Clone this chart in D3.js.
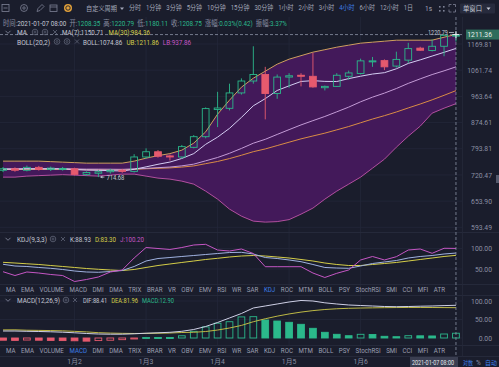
<!DOCTYPE html>
<html>
<head>
<meta charset="utf-8">
<script src="https://cdn.jsdelivr.net/npm/d3@7"></script>
<style>
html, body { margin: 0; padding: 0; background: #1a1d2c; }
svg { display: block; }
text { font-family: Roboto, "Noto Sans CJK SC", sans-serif; }
</style>
</head>
<body>
<svg id="chart" width="499" height="367"></svg>
<script>
'use strict';

// 4h candles, 2021-01-01 00:00 .. 2021-01-07 08:00
var times = [
    '2021-01-01 00:00', '2021-01-01 04:00', '2021-01-01 08:00', '2021-01-01 12:00', '2021-01-01 16:00', '2021-01-01 20:00',
    '2021-01-02 00:00', '2021-01-02 04:00', '2021-01-02 08:00', '2021-01-02 12:00', '2021-01-02 16:00', '2021-01-02 20:00',
    '2021-01-03 00:00', '2021-01-03 04:00', '2021-01-03 08:00', '2021-01-03 12:00', '2021-01-03 16:00', '2021-01-03 20:00',
    '2021-01-04 00:00', '2021-01-04 04:00', '2021-01-04 08:00', '2021-01-04 12:00', '2021-01-04 16:00', '2021-01-04 20:00',
    '2021-01-05 00:00', '2021-01-05 04:00', '2021-01-05 08:00', '2021-01-05 12:00', '2021-01-05 16:00', '2021-01-05 20:00',
    '2021-01-06 00:00', '2021-01-06 04:00', '2021-01-06 08:00', '2021-01-06 12:00', '2021-01-06 16:00', '2021-01-06 20:00',
    '2021-01-07 00:00', '2021-01-07 04:00', '2021-01-07 08:00'
];
var opens = [733, 737, 733, 741, 735, 736, 737, 722, 725, 729, 733, 730, 770, 785, 773, 770, 798, 830, 918, 922,
    976, 1020, 1045, 974, 1035, 1042, 1038, 995, 1000, 1038, 1049, 1096, 1100, 1078, 1102, 1152, 1142, 1160, 1208.35];
var highs = [742, 741, 746, 745, 743, 742, 740, 730, 733, 737, 737, 778, 795, 790, 777, 805, 835, 925, 980, 1010,
    1030, 1160, 1075, 1045, 1050, 1050, 1132, 1003, 1050, 1060, 1108, 1115, 1105, 1137, 1175, 1158, 1190, 1215, 1220.79];
var lows = [728, 729, 730, 732, 731, 732, 719, 718, 714.68, 724, 726, 727, 765, 768, 760, 765, 795, 825, 860, 915,
    970, 1010, 885, 955, 995, 1000, 995, 985, 998, 1025, 1045, 1075, 1062, 1072, 1090, 1140, 1138, 1118, 1180.11];
var closes = [737, 733, 741, 735, 739, 738, 722, 727, 729, 733, 730, 770, 785, 772, 770, 800, 830, 921, 923, 976,
    1020, 1045, 974, 1035, 1040, 1038, 998, 1000, 1042, 1051, 1099, 1099, 1075, 1105, 1150, 1143, 1160, 1208, 1208.75];

var ma7 = [736, 736, 737, 737, 737, 737, 735, 733.6, 733, 731.9, 731.1, 735.6, 742.3, 749.4, 755.6, 765.7, 779.6, 806.9, 828.7, 856,
    891.4, 930.7, 955.6, 984.9, 1001.9, 1018.3, 1021.4, 1018.6, 1018.1, 1029.1, 1038.3, 1046.7, 1052, 1067.3, 1088.7, 1103.1, 1118.7, 1134.3, 1150.71];
var ma30 = [735.1, 735, 735.2, 735.2, 735.3, 735.4, 734.9, 734.6, 734.4, 734.3, 734.3, 735.5, 737.1, 738.4, 739.5, 741.7, 744.9, 751.1, 757.3, 765.4,
    774.9, 785.2, 793.2, 803.2, 813.3, 823.4, 832.2, 841, 851.3, 861.8, 873.9, 886.1, 897.2, 909.5, 923.2, 936.7, 951.3, 967.4, 984.36];
var boll = [737, 737, 737, 737, 737, 737, 736.5, 736, 736, 735.8, 735.5, 736.8, 738.2, 740.1, 741.8, 745.1, 749.8, 759.1, 768.5, 780.6,
    794.7, 810.3, 822, 837, 852, 867, 880.8, 894.5, 910.1, 926, 944.5, 960.9, 975.4, 992.1, 1011.1, 1028.2, 1044.7, 1059.1, 1074.86];
var ub = [758.2, 758.2, 758.2, 758.2, 756.8, 755.4, 754, 752.6, 752.6, 752.6, 752.6, 758.2, 766.6, 773.8, 779.6, 789.6, 810.4, 845, 902.2, 950.2,
    997, 1030.8, 1057.8, 1085.6, 1105.9, 1120.3, 1134.9, 1145.4, 1156.1, 1164.7, 1173.4, 1177.7, 1182, 1186.4, 1186.4, 1186.4, 1186.4, 1199.6, 1211.86];
var lb = [714.6, 714.6, 717.3, 718.6, 719.9, 721.2, 719.9, 718.6, 717.3, 719.9, 722.6, 722.6, 717.3, 712, 709.4, 704.1, 696.3, 678.5, 658.7, 634.8,
    618.5, 607.2, 605, 606.1, 610.6, 623.1, 637.2, 658.7, 678.5, 696.3, 714.6, 738.8, 763.8, 798.4, 831.6, 863, 905.5, 922.4, 937.86];

var kLine = [61.5, 57.3, 56.1, 53.7, 51.7, 48.8, 45.1, 42.7, 42, 43.9, 46.3, 56.1, 69.5, 75.6, 78, 80.5, 82.9, 85.4, 87.8, 90.2,
    90.7, 86.6, 78, 75.6, 72, 67.8, 61, 53.7, 52.4, 51.7, 57.3, 63.4, 67.1, 70.7, 76.8, 80.5, 82.9, 86.6, 88.93];
var dLine = [66.3, 64.6, 62.7, 61, 58.5, 56.1, 53.7, 51.2, 49.3, 47.6, 46.3, 48.8, 53.7, 58.5, 62.2, 65.9, 69.5, 73.2, 76.1, 79.3,
    81.7, 82.9, 81.7, 79.3, 76.8, 73.2, 69.5, 64.6, 61, 58.5, 58.5, 61, 63.4, 65.9, 69.5, 73.2, 76.8, 80.5, 83.3];
var jLine = [43.4, 34.1, 42.7, 40.2, 36.6, 34.1, 19.5, 24.4, 30.5, 42.7, 47.6, 76.8, 102.4, 100, 97.6, 102.4, 108.5, 110.2, 96.3, 93.9,
    98.8, 87.8, 55.6, 55.6, 55.6, 55.6, 40.2, 29.3, 39.5, 47.6, 72, 80.5, 72, 80, 96.3, 98.8, 88.3, 100.5, 100.2];

var dif = [18.9, 18.9, 18.1, 17.6, 16.8, 15.7, 14.1, 12.2, 10.8, 10.3, 10.3, 11.4, 13, 14.1, 15.4, 18.1, 23, 31.1, 41.9, 54.1,
    66.2, 81.1, 86.5, 91.9, 97.3, 101.4, 100, 95.1, 91.9, 89.2, 87.8, 86.5, 85.1, 84.6, 85.1, 85.9, 86.5, 87.6, 88.41];
var dea = [21.9, 22.1, 21, 20.6, 20.1, 19.3, 18, 16.5, 14.4, 13.3, 12.6, 12.2, 12.3, 12.9, 13.5, 14.8, 15.5, 17.5, 21.5, 27,
    34, 44, 52, 59, 65, 70, 74, 77, 79, 80.3, 81, 81.5, 82, 82.3, 82.5, 82.5, 82.4, 82.2, 81.96];
var macdHist = [-6, -6.5, -5.5, -6, -6.5, -7, -7.5, -8.5, -7, -6, -4.5, -1.5, 1.5, 1.5, 1.3, 6, 18, 30, 40, 44,
    57, 57.6, 48.6, 45.9, 42.4, 37, 26.2, 15.4, 10, 6.2, 10, 9.5, 4.6, 3.5, 6.2, 5.9, 5.5, 10.8, 12.9];

var priceTicks = [1169.81, 1061.74, 963.64, 874.61, 793.81, 720.47, 653.90, 593.49];
var kdjTicks = [100, 50];
var macdTicks = [100, 50, 0];
var dayTickTimes = ['2021-01-02 00:00', '2021-01-03 00:00', '2021-01-04 00:00', '2021-01-05 00:00', '2021-01-06 00:00'];
var dayTickLabels = ['1月2', '1月3', '1月4', '1月5', '1月6'];
var crossPrice = 1211.36;
var crossTime = '2021-01-07 08:00';

var periods = ['分时', '1分钟', '3分钟', '5分钟', '10分钟', '15分钟', '30分钟', '1小时', '2小时', '3小时', '4小时', '6小时', '12小时', '1日'];
var activePeriod = '4小时';
var indicatorTabs = ['MA', 'EMA', 'VOLUME', 'MACD', 'DMI', 'DMA', 'TRIX', 'BRAR', 'VR', 'OBV', 'EMV', 'RSI', 'WR', 'SAR',
    'KDJ', 'ROC', 'MTM', 'BOLL', 'PSY', 'StochRSI', 'SMI', 'CCI', 'MFI', 'ATR'];

// colours
var bg = '#1a1d2c';
var gridColor = '#23273a';
var axisText = '#8a8fa3';
var lightText = '#c3c6d2';
var teal = '#2bb98b';
var red = '#e65a6e';
var yellow = '#d4cd48';
var magenta = '#c556c4';
var blue = '#3d7de6';

var W = 499, H = 367, plotRight = 462;
var svg = d3.select('#chart');
svg.append('rect').attr('width', W).attr('height', H).attr('fill', bg);

var x = d3.scaleBand().domain(times).range([-5, 464]).padding(0.35);
function cx(t) { return x(t) + x.bandwidth() / 2; }
var yPrice = d3.scaleLog().domain([593.49, 1169.81]).range([227.3, 44]);
var yKdj = d3.scaleLinear().domain([50, 100]).range([269, 248.5]);
var yMacd = d3.scaleLinear().domain([0, 100]).range([338, 301]);

var defs = svg.append('defs');
function clip(id, y0, h) {
    defs.append('clipPath').attr('id', id).append('rect')
        .attr('x', 0).attr('y', y0).attr('width', plotRight).attr('height', h);
}
clip('clipMain', 17, 215);
clip('clipKdj', 233, 51);
clip('clipMacd', 296, 49);

function label(g, px, py, str, color, size, anchor, width) {
    var t = g.append('text')
        .attr('x', px).attr('y', py)
        .attr('fill', color)
        .attr('font-size', size + 'px')
        .attr('text-anchor', anchor || 'start')
        .text(str);
    if (width) t.attr('textLength', width).attr('lengthAdjust', 'spacingAndGlyphs');
    return t;
}

// lays texts one after another from x0; the row group is squeezed sideways so it ends by x1
// (the source UI uses a narrow face). item = [parts, gapBefore], parts = [[string, colour], ...]
function fitRow(g, py, x0, x1, items, size) {
    var row = g.append('g');
    var nodes = items.map(function (it) {
        var t = row.append('text').attr('y', py).attr('font-size', size + 'px');
        it[0].forEach(function (p) { t.append('tspan').attr('fill', p[1]).text(p[0]); });
        return t;
    });
    var widths = nodes.map(function (n) { return n.node().getComputedTextLength(); });
    var gaps = items.map(function (it, i) { return i === 0 ? 0 : (it[1] || 0); });
    var k = Math.min(1, (x1 - x0 - d3.sum(gaps)) / d3.sum(widths));
    var px = 0;
    nodes.forEach(function (n, i) {
        px += gaps[i] / k;
        n.attr('x', px);
        px += widths[i];
    });
    row.attr('transform', 'translate(' + x0 + ',0) scale(' + k + ',1)');
}

// ---------- grid + panel separators ----------
var grid = svg.append('g');
function hGrid(ticks, scale) {
    grid.selectAll(null).data(ticks).enter().append('line')
        .attr('x1', 0).attr('x2', plotRight)
        .attr('y1', function (d) { return scale(d); }).attr('y2', function (d) { return scale(d); })
        .attr('stroke', gridColor).attr('stroke-width', 0.8);
}
hGrid(priceTicks, yPrice);
hGrid(kdjTicks, yKdj);
hGrid(macdTicks, yMacd);
grid.selectAll(null).data(dayTickTimes).enter().append('line')
    .attr('x1', cx).attr('x2', cx)
    .attr('y1', 17).attr('y2', 345)
    .attr('stroke', gridColor).attr('stroke-width', 0.8);
[232.5, 284.5, 295.5, 345.5, 356.5].forEach(function (yy) {
    grid.append('line').attr('x1', 0).attr('x2', W).attr('y1', yy).attr('y2', yy)
        .attr('stroke', '#282c3e').attr('stroke-width', 0.8);
});
grid.append('line').attr('x1', plotRight + 0.5).attr('x2', plotRight + 0.5).attr('y1', 17).attr('y2', 357)
    .attr('stroke', '#242838').attr('stroke-width', 0.8);

// ---------- main chart ----------
var main = svg.append('g').attr('clip-path', 'url(#clipMain)');

var band = d3.area()
    .x(function (d, i) { return cx(times[i]); })
    .y0(function (d, i) { return yPrice(lb[i]); })
    .y1(function (d, i) { return yPrice(ub[i]); });
main.append('path').datum(ub).attr('d', band).attr('fill', '#43195a');

function priceLine(arr, color) {
    var line = d3.line()
        .x(function (d, i) { return cx(times[i]); })
        .y(function (d) { return yPrice(d); });
    main.append('path').datum(arr).attr('d', line)
        .attr('fill', 'none').attr('stroke', color).attr('stroke-width', 1);
}
priceLine(ub, '#cf9f5f');
priceLine(lb, '#b24f9f');
priceLine(ma30, '#d98c45');
priceLine(boll, '#c39bd6');
priceLine(ma7, '#d4cdf2');

var candles = times.map(function (t, i) {
    return { t: t, o: opens[i], h: highs[i], l: lows[i], c: closes[i] };
});
var cg = main.append('g');
candles.forEach(function (d) {
    var up = d.c >= d.o;
    var col = up ? teal : red;
    var top = yPrice(Math.max(d.o, d.c));
    var bot = yPrice(Math.min(d.o, d.c));
    var xc = cx(d.t);
    cg.append('line').attr('x1', xc).attr('x2', xc).attr('y1', yPrice(d.h)).attr('y2', top)
        .attr('stroke', col).attr('stroke-width', 0.9);
    cg.append('line').attr('x1', xc).attr('x2', xc).attr('y1', bot).attr('y2', yPrice(d.l))
        .attr('stroke', col).attr('stroke-width', 0.9);
    cg.append('rect')
        .attr('x', x(d.t) + 0.5).attr('y', top)
        .attr('width', x.bandwidth() - 1).attr('height', Math.max(1, bot - top))
        .attr('fill', up ? 'none' : col)
        .attr('stroke', col).attr('stroke-width', 0.9);
});

// high / low markers
var hiIdx = d3.maxIndex(highs), loIdx = d3.minIndex(lows);
var hx = cx(times[hiIdx]), hy = yPrice(highs[hiIdx]);
main.append('line').attr('x1', hx - 7).attr('x2', hx - 2).attr('y1', hy).attr('y2', hy).attr('stroke', lightText).attr('stroke-width', 0.8);
label(main, hx - 8, hy + 2.5, highs[hiIdx].toFixed(2), lightText, 7, 'end', 20);
var lx = cx(times[loIdx]), ly = yPrice(lows[loIdx]);
main.append('line').attr('x1', lx + 2).attr('x2', lx + 6).attr('y1', ly).attr('y2', ly).attr('stroke', lightText).attr('stroke-width', 0.8);
main.append('path').attr('d', 'M' + (lx + 2) + ',' + ly + 'l2,-1.5v3z').attr('fill', lightText);
label(main, lx + 8, ly + 2.5, lows[loIdx].toFixed(2), lightText, 7, 'start', 18);

// right-hand axes
function rightAxis(scale, ticks) {
    var a = svg.append('g').attr('transform', 'translate(494,0)')
        .call(d3.axisLeft(scale).tickValues(ticks).tickFormat(d3.format('.2f')).tickSize(0).tickPadding(2));
    a.select('.domain').remove();
    a.selectAll('text').attr('fill', axisText).attr('font-size', '6.8px').attr('font-family', null);
}
rightAxis(yPrice, priceTicks);

// ---------- KDJ ----------
var kdj = svg.append('g').attr('clip-path', 'url(#clipKdj)');
function kdjLine(arr, color) {
    var line = d3.line()
        .x(function (d, i) { return cx(times[i]); })
        .y(function (d) { return yKdj(d); });
    kdj.append('path').datum(arr).attr('d', line)
        .attr('fill', 'none').attr('stroke', color).attr('stroke-width', 1);
}
kdjLine(dLine, yellow);
kdjLine(kLine, '#9fb1e0');
kdjLine(jLine, magenta);
rightAxis(yKdj, kdjTicks);

// ---------- MACD ----------
var macd = svg.append('g').attr('clip-path', 'url(#clipMacd)');
macdHist.forEach(function (v, i) {
    var rising = i > 0 && v > macdHist[i - 1];
    var col = v >= 0 ? teal : red;
    var y0 = yMacd(Math.max(0, v)), y1 = yMacd(Math.min(0, v));
    macd.append('rect')
        .attr('x', x(times[i]) + 0.5).attr('y', y0)
        .attr('width', x.bandwidth() - 1).attr('height', Math.max(1, y1 - y0))
        .attr('fill', rising ? 'none' : col)
        .attr('stroke', col).attr('stroke-width', 0.9);
});
function macdLine(arr, color) {
    var line = d3.line()
        .x(function (d, i) { return cx(times[i]); })
        .y(function (d) { return yMacd(d); });
    macd.append('path').datum(arr).attr('d', line)
        .attr('fill', 'none').attr('stroke', color).attr('stroke-width', 1);
}
macdLine(dea, '#bdb845');
macdLine(dif, '#cfd0e6');
rightAxis(yMacd, macdTicks);

// date axis
var xAxis = svg.append('g').attr('transform', 'translate(0,357)')
    .call(d3.axisBottom(x).tickValues(dayTickTimes).tickSize(0).tickPadding(2)
        .tickFormat(function (d, i) { return dayTickLabels[i]; }));
xAxis.select('.domain').remove();
xAxis.selectAll('text').attr('fill', axisText).attr('font-size', '6.8px').attr('font-family', null);

// ---------- crosshair ----------
var cross = svg.append('g');
var chx = cx(crossTime), chy = yPrice(crossPrice);
cross.append('line').attr('x1', chx).attr('x2', chx).attr('y1', 17).attr('y2', 357)
    .attr('stroke', '#9aa0b4').attr('stroke-width', 0.7).attr('stroke-dasharray', '3,2');
cross.append('line').attr('x1', 0).attr('x2', plotRight).attr('y1', chy).attr('y2', chy)
    .attr('stroke', '#9aa0b4').attr('stroke-width', 0.7).attr('stroke-dasharray', '3,2');
cross.append('path').attr('d', 'M' + (chx - 3.5) + ',' + chy + 'h7M' + chx + ',' + (chy - 3.5) + 'v7')
    .attr('stroke', '#e8eaf0').attr('stroke-width', 1);
cross.append('rect').attr('x', 466).attr('y', chy - 5).attr('width', 33).attr('height', 10).attr('fill', '#2f6d5c');
label(cross, 492, chy + 2.5, crossPrice.toFixed(2), '#e8f0ec', 6.8, 'end');
cross.append('rect').attr('x', 410).attr('y', 357).attr('width', 48).attr('height', 10).attr('fill', '#3a3e51');
label(cross, 433, 364.5, crossTime, '#e4e6ee', 6.5, 'middle', 42);
label(cross, 463, 364.5, '对数', blue, 6, 'start', 10);
label(cross, 476, 364.5, '%', axisText, 6.5);
label(cross, 485, 364.5, '自动', blue, 6, 'start', 12);
svg.append('rect').attr('x', 496).attr('y', 175).attr('width', 3).attr('height', 8).attr('fill', '#555a6d');

// ---------- toolbar ----------
var tb = svg.append('g');
var ic = '#7d8296';
tb.append('rect').attr('x', 2).attr('y', 4.5).attr('width', 7).attr('height', 7).attr('fill', 'none').attr('stroke', ic).attr('stroke-width', 0.8);
tb.append('line').attr('x1', 3.5).attr('x2', 7.5).attr('y1', 8).attr('y2', 8).attr('stroke', ic).attr('stroke-width', 0.8);
tb.append('path').attr('d', d3.symbol().type(d3.symbolCircle).size(38)()).attr('transform', 'translate(24,8)')
    .attr('fill', 'none').attr('stroke', ic).attr('stroke-width', 0.8);
tb.append('circle').attr('cx', 24).attr('cy', 8).attr('r', 1.2).attr('fill', 'none').attr('stroke', ic).attr('stroke-width', 0.8);
tb.append('path').attr('d', 'M37,11.5l1,-3l4,-4l2,2l-4,4z').attr('fill', 'none').attr('stroke', ic).attr('stroke-width', 0.8);
tb.append('rect').attr('x', 50).attr('y', 5).attr('width', 7).attr('height', 6.5).attr('fill', 'none').attr('stroke', ic).attr('stroke-width', 0.8);
tb.append('line').attr('x1', 50).attr('x2', 57).attr('y1', 7).attr('y2', 7).attr('stroke', ic).attr('stroke-width', 0.8);
tb.append('circle').attr('cx', 68).attr('cy', 8).attr('r', 4).attr('fill', '#e2a13a');
tb.append('circle').attr('cx', 68).attr('cy', 8).attr('r', 2.2).attr('fill', 'none').attr('stroke', '#1a1d2c').attr('stroke-width', 0.9);

label(tb, 86, 10.5, '自定义周期', '#a3a7b8', 6.3, 'start', 31);
tb.append('path').attr('d', 'M120,7.5h4l-2,2.5z').attr('fill', '#a3a7b8');
fitRow(tb, 10.5, 129, 413, periods.map(function (p) {
    return [[[p, p === activePeriod ? blue : '#a3a7b8']], 5];
}), 6.5);
label(tb, 425, 10.5, '1s', '#a3a7b8', 6.5);
[[439, 6], [443, 6], [439, 10], [443, 10]].forEach(function (p) {
    tb.append('rect').attr('x', p[0]).attr('y', p[1]).attr('width', 1.6).attr('height', 1.6).attr('fill', ic);
});
tb.append('path').attr('d', 'M449,7v-2.5h2.5M453,4.5h2.5v2.5M455.5,9.5v2.5h-2.5M451.5,12h-2.5v-2.5')
    .attr('fill', 'none').attr('stroke', ic).attr('stroke-width', 0.8);
tb.append('rect').attr('x', 460).attr('y', 3.5).attr('width', 35).attr('height', 10).attr('rx', 1).attr('fill', '#272b3d');
label(tb, 463, 10.8, '单窗口', '#c8ccd8', 6.3, 'start', 19);
tb.append('path').attr('d', 'M486.5,7.5h4l-2,2.5z').attr('fill', '#c8ccd8');

// ---------- legends ----------
var lg = svg.append('g');
fitRow(lg, 25.8, 3, 287, [
    [[['时间:', axisText], ['2021-01-07 08:00', lightText]]],
    [[['开:', axisText], ['1208.35', teal]], 3],
    [[['高:', axisText], ['1220.79', teal]], 3],
    [[['低:', axisText], ['1180.11', teal]], 3],
    [[['收:', axisText], ['1208.75', teal]], 3],
    [[['涨幅:', axisText], ['0.03%(0.42)', teal]], 3],
    [[['振幅:', axisText], ['3.37%', teal]], 3]
], 8);

function chevron(g, px, py) {
    g.append('path').attr('d', 'M' + (px - 2.5) + ',' + (py - 1.2) + 'L' + px + ',' + (py + 1.3) + 'L' + (px + 2.5) + ',' + (py - 1.2))
        .attr('fill', 'none').attr('stroke', axisText).attr('stroke-width', 0.8);
}
function gear(g, px, py) {
    g.append('circle').attr('cx', px).attr('cy', py).attr('r', 2.8).attr('fill', 'none').attr('stroke', '#5f6477').attr('stroke-width', 0.8);
    g.append('circle').attr('cx', px).attr('cy', py).attr('r', 1).attr('fill', 'none').attr('stroke', '#5f6477').attr('stroke-width', 0.7);
}
function closeX(g, px, py) {
    g.append('path').attr('d', 'M' + (px - 2) + ',' + (py - 2) + 'l4,4M' + (px + 2) + ',' + (py - 2) + 'l-4,4')
        .attr('stroke', '#5f6477').attr('stroke-width', 0.8);
}

chevron(lg, 8, 32);
label(lg, 17, 35.3, 'MA', lightText, 8, 'start', 10);
gear(lg, 35, 32); gear(lg, 45, 32); closeX(lg, 55, 32);
fitRow(lg, 35.3, 62, 150, [[[['MA(7):1150.71', lightText]]], [[['MA(30):984.36', yellow]], 5]], 8);

label(lg, 17, 44.8, 'BOLL(20,2)', lightText, 8, 'start', 33);
gear(lg, 57, 41.5); gear(lg, 67, 41.5); closeX(lg, 77, 41.5);
fitRow(lg, 44.8, 83, 191, [[[['BOLL:1074.86', lightText]]], [[['UB:1211.86', yellow]], 4], [[['LB:937.86', magenta]], 4]], 8);

chevron(lg, 8, 239);
label(lg, 17, 242, 'KDJ(9,3,3)', lightText, 8, 'start', 30);
gear(lg, 53, 239); closeX(lg, 63, 239);
fitRow(lg, 242, 70, 144, [[[['K:88.93', lightText]]], [[['D:83.30', yellow]], 4], [[['J:100.20', magenta]], 4]], 8);

chevron(lg, 8, 300);
label(lg, 17, 303, 'MACD(12,26,9)', lightText, 8, 'start', 43);
gear(lg, 66, 300); closeX(lg, 75, 300);
fitRow(lg, 303, 83, 174, [[[['DIF:88.41', lightText]]], [[['DEA:81.96', yellow]], 4], [[['MACD:12.90', teal]], 4]], 8);

// ---------- indicator tab rows ----------
function tabRow(py, active) {
    fitRow(svg.append('g'), py, 6, 445, indicatorTabs.map(function (t) {
        return [[[t, t === active ? blue : '#9a9fb2']], 5.5];
    }), 7.5);
}
tabRow(292.5, 'KDJ');
tabRow(353, 'MACD');
</script>
</body>
</html>
